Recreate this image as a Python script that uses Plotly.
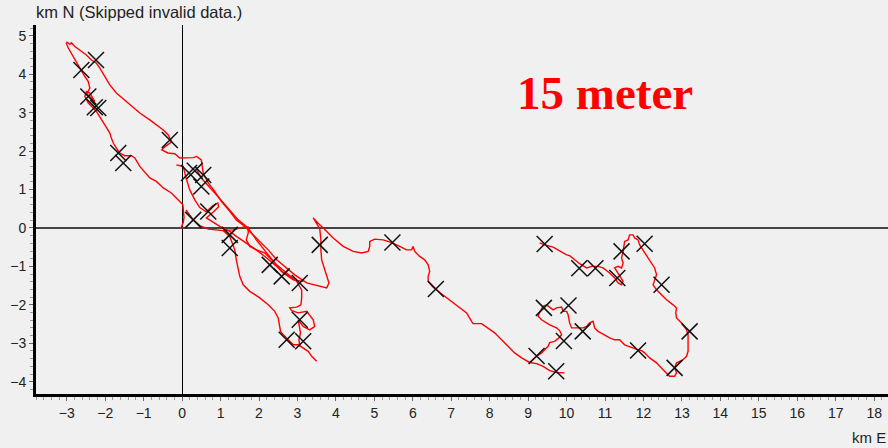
import plotly.graph_objects as go

# GPS track of the 15 m run, kilometres east / north of the start point.
# Each piece is a continuous stretch of valid fixes.
track_nw_east_x = [-0.04, 0.03, 0.05, 0.03, 0.02, -0.06, -0.28, -0.49, -0.67, -0.84, -1.10, -1.23, -1.32, -1.49, -1.62,
                   -1.71, -1.79, -1.84, -1.88, -2.01, -2.14, -2.23, -2.31, -2.44, -2.53, -2.49, -2.40, -2.27, -2.35, -2.48,
                   -2.40, -2.44, -2.53, -2.66, -2.75, -2.88, -2.96, -3.01, -2.99, -2.92, -2.88, -2.79, -2.66, -2.49, -2.36,
                   -2.23, -2.14, -2.01, -1.88, -1.71, -1.49, -1.36, -1.10, -0.84, -0.62, -0.49, -0.36, -0.27, -0.45, -0.53,
                   -0.37, -0.19, -0.06, 0.11, 0.29, 0.38, 0.50, 0.55, 0.68, 0.85, 1.02, 1.24, 1.41, 1.63, 1.85,
                   2.02, 2.24, 2.46, 2.72, 2.93, 3.24, 3.50, 3.76, 3.82, 3.76, 3.71, 3.63, 3.61, 3.61, 3.58,
                   3.48, 3.41, 3.58, 3.67, 3.93, 4.19, 4.45, 4.67, 4.84, 4.88, 4.88, 5.01, 5.23, 5.45, 5.66,
                   5.84, 5.97, 6.01, 6.05, 6.18, 6.31, 6.40, 6.44, 6.40, 6.40, 6.53, 6.70, 6.88, 7.05, 7.22,
                   7.40, 7.53, 7.57, 7.79, 7.96, 8.13, 8.31, 8.48, 8.65, 8.83, 9.04, 9.22, 9.39, 9.56, 9.74, 9.95]
track_nw_east_y = [-0.03, 0.14, 0.27, 0.43, 0.60, 0.69, 0.91, 1.04, 1.21, 1.30, 1.60, 1.82, 1.88, 1.88, 1.95,
                   2.08, 2.21, 2.34, 2.47, 2.68, 2.90, 3.03, 3.12, 3.25, 3.42, 3.55, 3.51, 3.29, 3.36, 3.49,
                   3.64, 3.81, 3.94, 4.16, 4.33, 4.55, 4.68, 4.80, 4.83, 4.78, 4.82, 4.72, 4.62, 4.50, 4.37,
                   4.29, 4.16, 3.94, 3.72, 3.51, 3.33, 3.20, 2.99, 2.81, 2.66, 2.55, 2.42, 2.24, 2.11, 2.03,
                   1.95, 1.93, 1.82, 1.82, 1.83, 1.86, 1.77, 1.43, 1.17, 0.95, 0.69, 0.43, 0.21, 0.04, -0.18,
                   -0.35, -0.57, -0.83, -1.04, -1.22, -1.43, -1.50, -1.56, -1.43, -1.22, -1.09, -0.83, -0.57, -0.31, -0.02,
                   0.16, 0.26, 0.08, 0.00, -0.26, -0.48, -0.61, -0.65, -0.61, -0.48, -0.35, -0.29, -0.31, -0.38, -0.48,
                   -0.57, -0.57, -0.48, -0.61, -0.74, -0.83, -0.96, -1.13, -1.26, -1.39, -1.54, -1.68, -1.82, -1.95, -2.08,
                   -2.21, -2.43, -2.49, -2.49, -2.60, -2.73, -2.91, -3.08, -3.25, -3.38, -3.50, -3.53, -3.60, -3.71, -3.76, -3.77]

track_far_loop_x = [9.30, 9.43, 9.65, 9.82, 10.00, 10.08, 10.21, 10.34, 10.52, 10.66, 10.82, 10.95, 11.12, 11.25, 11.34,
                    11.43, 11.47, 11.38, 11.25, 11.34, 11.43, 11.47, 11.43, 11.47, 11.51, 11.60, 11.64, 11.73, 11.77, 11.86,
                    11.90, 11.95, 12.03, 12.12, 12.21, 12.29, 12.34, 12.29, 12.25, 12.34, 12.47, 12.60, 12.77, 12.86, 12.84,
                    12.86, 12.99, 13.12, 13.16, 13.16, 13.16, 13.12, 13.03, 12.86, 12.81, 12.86, 12.81, 12.68, 12.60, 12.51,
                    12.34, 12.16, 12.03, 11.95, 11.86, 11.73, 11.60, 11.51, 11.38, 11.25, 11.12, 10.99, 10.82, 10.73, 10.69,
                    10.60, 10.52, 10.43, 10.26, 10.13, 10.08, 10.04, 10.00, 9.91, 9.87, 9.74, 9.65, 9.56, 9.48, 9.39,
                    9.29, 9.26, 9.35, 9.56, 9.74, 9.82, 9.87, 9.80, 9.69, 9.56, 9.52, 9.43, 9.35, 9.22, 9.04]
track_far_loop_y = [-0.39, -0.44, -0.50, -0.59, -0.70, -0.72, -0.83, -0.93, -1.04, -1.00, -1.00, -1.04, -1.17, -1.30, -1.43,
                    -1.48, -1.39, -1.26, -1.04, -1.00, -1.04, -0.91, -0.78, -0.61, -0.35, -0.31, -0.18, -0.18, -0.26, -0.31,
                    -0.44, -0.52, -0.65, -0.78, -0.91, -1.04, -1.22, -1.35, -1.48, -1.61, -1.74, -1.87, -2.00, -2.08, -2.21,
                    -2.34, -2.47, -2.65, -2.78, -2.95, -3.21, -3.34, -3.43, -3.51, -3.64, -3.77, -3.86, -3.86, -3.77, -3.69,
                    -3.51, -3.38, -3.25, -3.19, -3.17, -3.12, -3.08, -3.04, -2.91, -2.91, -2.86, -2.78, -2.69, -2.60, -2.43,
                    -2.47, -2.56, -2.60, -2.60, -2.60, -2.47, -2.26, -2.17, -2.17, -2.06, -2.08, -2.13, -2.06, -2.00, -2.04,
                    -2.21, -2.30, -2.39, -2.52, -2.60, -2.67, -2.78, -2.86, -2.95, -2.98, -3.08, -3.17, -3.25, -3.34, -3.50]

track_bay_x = [0.10, 0.29, 0.46, 0.68, 1.07, 1.33, 1.59, 1.72, 1.72, 1.67, 1.76, 1.93, 2.15, 2.28, 2.46, 2.72, 2.98,
               3.11, 3.11, 3.09, 2.98, 2.80, 2.85, 3.02, 3.24, 3.41, 3.45, 3.32, 3.15, 3.02, 3.08, 3.04, 3.06]
track_bay_y = [0.47, 0.21, 0.06, -0.03, -0.07, -0.05, 0.02, 0.02, -0.13, -0.31, -0.48, -0.57, -0.65, -0.78, -0.96, -1.17, -1.39,
               -1.61, -1.82, -2.00, -2.06, -2.08, -2.15, -2.21, -2.17, -2.39, -2.56, -2.65, -2.56, -2.39, -2.73, -2.91, -3.08]

track_south_x = [1.07, 1.24, 1.37, 1.41, 1.50, 1.59, 1.76, 2.02, 2.24, 2.41, 2.50, 2.54, 2.56, 2.63, 2.76, 2.89, 3.02,
                 3.15, 3.28, 3.37, 3.45, 3.50]
track_south_y = [-0.07, -0.22, -0.57, -0.83, -1.26, -1.48, -1.65, -1.82, -2.00, -2.17, -2.34, -2.56, -2.69, -2.78, -2.91, -3.04, -3.04,
                 -3.12, -3.21, -3.34, -3.43, -3.47]

track_inner_x = [-0.15, 0.03, 0.10, 0.20, 0.33, 0.46, 0.63, 0.80, 0.93, 0.95, 0.82, 0.63, 0.98, 1.24, 1.41, 1.67, 1.93,
                 2.20, 2.46, 2.63, 2.89, 3.15]
track_inner_y = [1.64, 1.60, 1.31, 0.99, 0.73, 0.53, 0.42, 0.58, 0.65, 0.55, 0.42, 0.26, 0.04, -0.09, -0.22, -0.39, -0.57,
                 -0.78, -1.00, -1.17, -1.35, -1.39]

track_return_x = [0.38, 0.50, 0.85, 1.28, 1.46, 1.72, 1.93, 2.20, 2.41, 2.59, 2.80, 2.98]
track_return_y = [1.51, 1.30, 0.91, 0.43, 0.21, 0.00, -0.31, -0.65, -0.91, -1.13, -1.26, -1.35]

# Waypoint marks (km E, km N)
mark_x = [-2.62, -2.24, -2.44, -2.27, -2.18, -1.66, -1.53, -0.32,
          0.18, 0.33, 0.55, 0.50, 0.68, 0.29,
          1.24, 1.24, 2.28, 2.59, 3.06, 3.06, 2.72, 3.15, 3.58,
          5.47, 6.60, 9.43, 10.33, 10.75, 11.43, 11.32, 12.03, 12.47, 13.20, 12.81, 11.86,
          9.41, 10.05, 10.42, 9.93, 9.22, 9.73]
mark_y = [4.11, 4.37, 3.42, 3.14, 3.12, 1.95, 1.69, 2.29,
          1.43, 1.49, 1.38, 1.08, 0.43, 0.21,
          -0.18, -0.52, -0.96, -1.26, -1.43, -2.39, -2.91, -2.95, -0.44,
          -0.38, -1.59, -0.42, -1.05, -1.05, -0.61, -1.30, -0.41, -1.48, -2.69, -3.64, -3.19,
          -2.08, -2.02, -2.69, -2.94, -3.33, -3.73]

x_range = [-3.80, 18.36]
y_range = [-4.32, 5.28]

pieces = [
    (track_nw_east_x, track_nw_east_y),
    (track_far_loop_x, track_far_loop_y),
    (track_bay_x, track_bay_y),
    (track_south_x, track_south_y),
    (track_inner_x, track_inner_y),
    (track_return_x, track_return_y),
]
line_x, line_y = [], []
for px, py in pieces:
    line_x += list(px) + [None]
    line_y += list(py) + [None]

fig = go.Figure()
fig.add_trace(go.Scatter(
    x=line_x, y=line_y, mode="lines", connectgaps=False,
    line=dict(color="#ff0000", width=1.4),
    hoverinfo="skip", showlegend=False,
))
fig.add_trace(go.Scatter(
    x=mark_x, y=mark_y, mode="markers",
    marker=dict(symbol="x-thin", size=16, line=dict(color="#111111", width=1.5)),
    showlegend=False,
))

axis_font = dict(family="Liberation Sans, Arial, sans-serif", size=14, color="#222222")
fig.update_xaxes(
    range=x_range, dtick=1, tick0=0, showgrid=False,
    zeroline=True, zerolinecolor="#000000", zerolinewidth=1,
    showline=True, linecolor="#000000", linewidth=3,
    ticks="outside", ticklen=4, tickcolor="#666666", tickwidth=1,
    minor=dict(dtick=0.2, tick0=0, ticks="outside", ticklen=3, tickcolor="#999999", showgrid=False),
    tickfont=axis_font,
)
fig.update_yaxes(
    range=y_range, dtick=1, tick0=0, showgrid=False,
    zeroline=True, zerolinecolor="#444444", zerolinewidth=2,
    showline=True, linecolor="#000000", linewidth=3,
    ticks="outside", ticklen=4, tickcolor="#666666", tickwidth=1,
    minor=dict(dtick=0.2, tick0=0, ticks="outside", ticklen=3, tickcolor="#999999", showgrid=False),
    tickfont=axis_font,
)

fig.add_annotation(
    text="km N (Skipped invalid data.)", xref="paper", yref="paper", x=0, y=1,
    xanchor="left", yanchor="bottom", xshift=-2, yshift=2, showarrow=False,
    font=dict(family="Liberation Sans, Arial, sans-serif", size=16.5, color="#222222"),
)
fig.add_annotation(
    text="km E", xref="paper", yref="paper", x=1, y=0,
    xanchor="right", yanchor="top", yshift=-33, showarrow=False,
    font=dict(family="Liberation Sans, Arial, sans-serif", size=15, color="#222222"),
)
fig.add_annotation(
    text="<b>15 meter</b>", x=11.0, y=3.5, xanchor="center", yanchor="middle",
    showarrow=False,
    font=dict(family="Liberation Serif, Times New Roman, serif", size=47, color="#ff0000"),
)

fig.update_layout(
    width=888, height=448,
    margin=dict(l=36, r=0, t=25, b=54),
    paper_bgcolor="#f0f0f0", plot_bgcolor="#f0f0f0",
    showlegend=False,
)

fig.write_html("out.html")
